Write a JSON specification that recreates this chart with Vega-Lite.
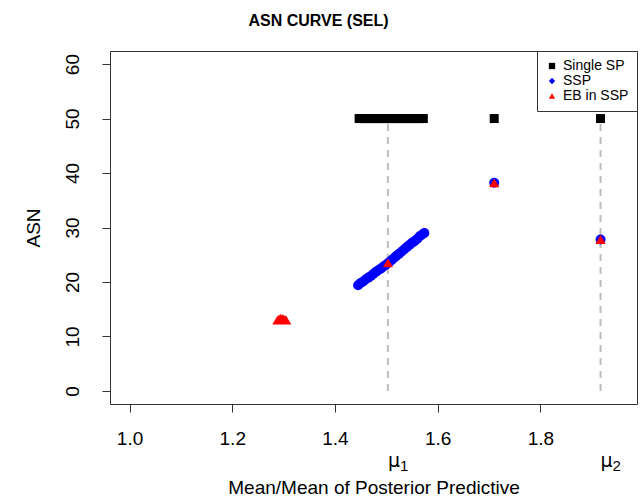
{
  "$schema": "https://vega.github.io/schema/vega-lite/v6.json",
  "autosize": "none",
  "width": 527,
  "height": 353,
  "padding": {"left": 110, "top": 51, "right": 7, "bottom": 97},
  "background": "white",
  "title": {"text": "ASN CURVE (SEL)", "font": "Liberation Sans", "fontSize": 16, "fontWeight": "bold", "color": "black", "anchor": "middle", "frame": "group", "offset": 22, "dx": -55},
  "config": {
    "view": {"stroke": "#333333", "strokeWidth": 1},
    "font": "Liberation Sans"
  },
  "datasets": {
    "single": [
      {"x": 1.447, "asn": 50}, {"x": 1.452, "asn": 50}, {"x": 1.457, "asn": 50}, {"x": 1.462, "asn": 50},
      {"x": 1.467, "asn": 50}, {"x": 1.472, "asn": 50}, {"x": 1.477, "asn": 50}, {"x": 1.482, "asn": 50},
      {"x": 1.487, "asn": 50}, {"x": 1.492, "asn": 50}, {"x": 1.497, "asn": 50}, {"x": 1.502, "asn": 50},
      {"x": 1.507, "asn": 50}, {"x": 1.512, "asn": 50}, {"x": 1.517, "asn": 50}, {"x": 1.522, "asn": 50},
      {"x": 1.527, "asn": 50}, {"x": 1.532, "asn": 50}, {"x": 1.537, "asn": 50}, {"x": 1.542, "asn": 50},
      {"x": 1.547, "asn": 50}, {"x": 1.552, "asn": 50}, {"x": 1.557, "asn": 50}, {"x": 1.562, "asn": 50},
      {"x": 1.567, "asn": 50}, {"x": 1.572, "asn": 50}, {"x": 1.71, "asn": 50}, {"x": 1.917, "asn": 50}
    ],
    "ssp": [
      {"x": 1.445, "asn": 19.4}, {"x": 1.45, "asn": 19.8}, {"x": 1.455, "asn": 20.1}, {"x": 1.46, "asn": 20.5},
      {"x": 1.465, "asn": 20.8}, {"x": 1.47, "asn": 21.1}, {"x": 1.475, "asn": 21.5}, {"x": 1.48, "asn": 21.9},
      {"x": 1.485, "asn": 22.2}, {"x": 1.49, "asn": 22.5}, {"x": 1.495, "asn": 22.9}, {"x": 1.5, "asn": 23.2},
      {"x": 1.505, "asn": 23.6}, {"x": 1.51, "asn": 24.0}, {"x": 1.515, "asn": 24.4}, {"x": 1.52, "asn": 24.8},
      {"x": 1.525, "asn": 25.2}, {"x": 1.53, "asn": 25.6}, {"x": 1.535, "asn": 26.0}, {"x": 1.54, "asn": 26.4},
      {"x": 1.545, "asn": 26.8}, {"x": 1.55, "asn": 27.2}, {"x": 1.555, "asn": 27.5}, {"x": 1.56, "asn": 27.9},
      {"x": 1.565, "asn": 28.4}, {"x": 1.57, "asn": 28.7}, {"x": 1.574, "asn": 29.0},
      {"x": 1.71, "asn": 38.2}, {"x": 1.917, "asn": 27.8}
    ],
    "eb": [
      {"x": 1.288, "asn": 13.0}, {"x": 1.291, "asn": 13.2}, {"x": 1.294, "asn": 13.3}, {"x": 1.297, "asn": 13.3},
      {"x": 1.3, "asn": 13.2}, {"x": 1.303, "asn": 13.1}, {"x": 1.305, "asn": 13.0},
      {"x": 1.503, "asn": 23.5}, {"x": 1.71, "asn": 38.2}, {"x": 1.917, "asn": 27.8}
    ],
    "mu": [
      {"x": 1.503, "top": 50, "bottom": 0, "label": "μ", "sub": "1"},
      {"x": 1.917, "top": 50, "bottom": 0, "label": "μ", "sub": "2"}
    ]
  },
  "encoding": {
    "x": {
      "field": "x", "type": "quantitative",
      "scale": {"domain": [0.962, 1.988], "nice": false, "zero": false},
      "axis": {
        "title": "Mean/Mean of Posterior Predictive", "titleFont": "Liberation Sans", "titleFontSize": 19, "titleFontWeight": "normal", "titleColor": "black", "titlePadding": 30,
        "values": [1.0, 1.2, 1.4, 1.6, 1.8], "format": ".1f", "grid": false, "domain": false,
        "tickSize": 8, "tickColor": "#333333", "labelFont": "Liberation Sans", "labelFontSize": 19, "labelColor": "black", "labelPadding": 17
      }
    },
    "y": {
      "field": "asn", "type": "quantitative",
      "scale": {"domain": [-2.4, 62.4], "nice": false, "zero": false},
      "axis": {
        "title": "ASN", "titleFont": "Liberation Sans", "titleFontSize": 19, "titleFontWeight": "normal", "titleColor": "black", "titlePadding": 20,
        "values": [0, 10, 20, 30, 40, 50, 60], "grid": false, "domain": false,
        "tickSize": 8, "tickColor": "#333333", "labelFont": "Liberation Sans", "labelFontSize": 19, "labelColor": "black",
        "labelAngle": -90, "labelAlign": "center", "labelBaseline": "bottom", "labelPadding": 20
      }
    }
  },
  "layer": [
    {
      "data": {"name": "mu"},
      "mark": {"type": "rule", "color": "#bdbdbd", "strokeWidth": 2, "strokeDash": [7, 6]},
      "encoding": {"y": {"field": "bottom", "type": "quantitative"}, "y2": {"field": "top"}}
    },
    {
      "data": {"name": "mu"},
      "mark": {"type": "text", "font": "DejaVu Sans", "fontSize": 19, "color": "black", "baseline": "alphabetic", "align": "left", "dx": 0, "dy": 76},
      "encoding": {"y": {"field": "bottom", "type": "quantitative"}, "text": {"field": "label", "type": "nominal"}}
    },
    {
      "data": {"name": "mu"},
      "mark": {"type": "text", "font": "Liberation Sans", "fontSize": 15, "color": "black", "baseline": "alphabetic", "align": "left", "dx": 12, "dy": 80},
      "encoding": {"y": {"field": "bottom", "type": "quantitative"}, "text": {"field": "sub", "type": "nominal"}}
    },
    {
      "data": {"name": "single"},
      "transform": [{"calculate": "'Single SP'", "as": "series"}],
      "mark": {"type": "point", "filled": true, "size": 81, "opacity": 1},
      "encoding": {
        "color": {"field": "series", "type": "nominal", "scale": {"domain": ["Single SP", "SSP", "EB in SSP"], "range": ["#000000", "#0000ff", "#ff0000"]},
          "legend": {"title": null, "orient": "top-right", "offset": 0, "padding": 8, "strokeColor": "#333333", "fillColor": "white", "labelFont": "Liberation Sans", "labelFontSize": 14, "labelColor": "black", "symbolSize": 40, "rowPadding": 1, "symbolStrokeWidth": 0, "cornerRadius": 0}},
        "shape": {"field": "series", "type": "nominal", "scale": {"domain": ["Single SP", "SSP", "EB in SSP"], "range": ["square", "diamond", "triangle-up"]}}
      }
    },
    {
      "data": {"name": "ssp"},
      "transform": [{"calculate": "'SSP'", "as": "series"}],
      "mark": {"type": "point", "filled": true, "shape": "circle", "size": 100, "opacity": 1},
      "encoding": {
        "color": {"field": "series", "type": "nominal"}
      }
    },
    {
      "data": {"name": "eb"},
      "transform": [{"calculate": "'EB in SSP'", "as": "series"}],
      "mark": {"type": "point", "filled": true, "size": 105, "opacity": 1},
      "encoding": {
        "color": {"field": "series", "type": "nominal"},
        "shape": {"field": "series", "type": "nominal"}
      }
    }
  ]
}
